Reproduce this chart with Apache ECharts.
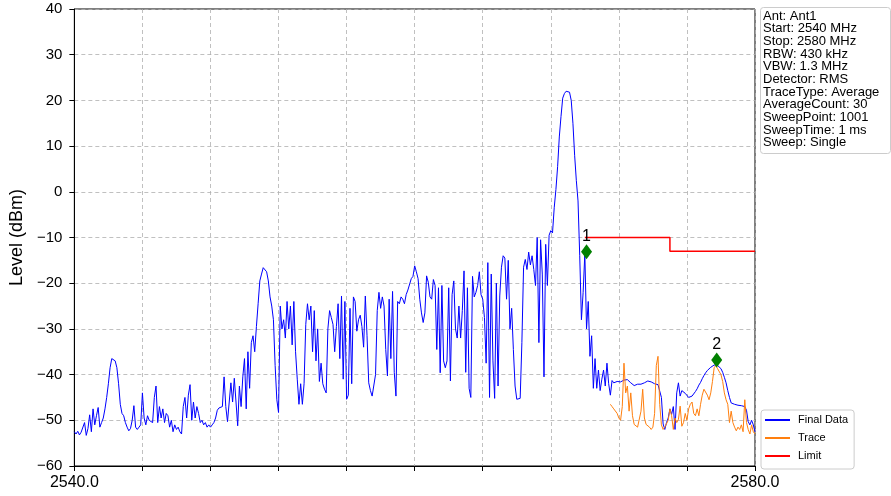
<!DOCTYPE html>
<html>
<head>
<meta charset="utf-8">
<script src="https://cdn.jsdelivr.net/npm/echarts@6/dist/echarts.min.js"></script>
<style>
html,body{margin:0;padding:0;background:#fff;}
#c{width:891px;height:496px;}
</style>
</head>
<body>
<div id="c"></div>
<script>
// ---- data ----
const freqStart = 2540.0;   // MHz
const freqStop = 2580.0;    // MHz
const freqStep = 0.1;       // MHz between read-off points
const xTickLabels = [2540, 2580];
const yTicks = [-60, -50, -40, -30, -20, -10, 0, 10, 20, 30, 40];

const finalData = [
-52.5,-53,-52.4,-53.2,-52.6,-52.9,-50.5,-53.3,-51.8,-48.8,
-52.5,-47.5,-51,-49,-47.2,-51.5,-50.5,-49.5,-47.5,-45,
-42,-38.5,-36.5,-36.6,-37,-38.5,-42,-46.5,-48.5,-49,
-50.5,-51.5,-52.3,-51.8,-50,-46.8,-51.5,-52,-51.5,-51,
-44,-49.5,-51,-49,-50,-50.3,-50.5,-45,-42.5,-50.5,
-47,-49.5,-47.5,-50.5,-48.5,-49,-51.5,-50,-52.5,-51,
-52,-51.5,-52.5,-53,-47,-45,-49.5,-44.5,-42.2,-50,
-46,-49.5,-47,-48.5,-50.5,-50,-51,-50.5,-51.5,-51,
-51.5,-51,-50.5,-49.5,-47.8,-47.3,-47.5,-47,-40.5,-47,
-50.3,-50.3,-41.8,-46,-40.8,-46,-51.2,-42.5,-47,-40.5,
-36.5,-47.5,-35,-43,-33,-31.5,-35,-29.5,-24.5,-19.5,
-18,-16.6,-16.8,-17.5,-19.5,-23,-25,-28,-38,-45.5,
-48.3,-25,-30,-28,-32,-24,-30,-25,-33.5,-24,
-35,-41,-46.5,-42,-46.5,-42,-29,-24.5,-28,-25,
-35,-26,-37,-30,-41.5,-37.5,-42,-43.2,-44,-30,
-26,-27.5,-29,-35,-29.5,-24.5,-36.5,-22.8,-41,-24,
-45.4,-44.5,-25.5,-42,-23,-24,-30.5,-28,-27,-29.5,
-34,-22.8,-31.5,-41.8,-43.5,-44.7,-44.5,-40,-26,-22,
-25.5,-23,-25,-34.5,-40.3,-23.5,-36.5,-21.8,-39.5,-44.7,
-24,-24.5,-23,-23.5,-24.5,-22.5,-21.5,-21.5,-19,-18.5,
-16.2,-17.5,-19,-23.5,-26.5,-28.6,-26.5,-18.4,-19.8,-23,
-23.5,-19.2,-20.5,-34.5,-21,-39.6,-20.5,-37,-38.5,-37,
-21,-41.4,-22.5,-19.5,-30,-32,-25,-32,-26,-17.3,
-39.5,-21,-43,-45,-18.5,-23,-22,-20.5,-17.5,-22.5,
-23.5,-27.5,-37.5,-15.5,-45,-18,-37,-45.2,-20,-42.5,
-22.8,-16.5,-14,-14.5,-23.5,-15,-30,-25.5,-34.5,-42.5,
-45.4,-45.8,-45.2,-33,-16.5,-14.8,-17,-13.2,-16,-14,
-17,-20.5,-10,-33,-10.5,-18,-40.5,-11.5,-20.5,-9.5,
-8.5,-9,-3.5,0.5,5.5,12,16.5,20.5,21.5,22,
22.3,21.8,20,15,8,2.5,-2,-14,-28,-22,
-13.5,-30,-24,-36,-31.5,-43,-36.5,-43,-39,-43.5,
-41,-39,-42.5,-37.5,-42,-44.5,-41.3,-41.8,-41.6,-41.5,
-41.7,-41.6,-41.3,-41.2,-41.1,-41.1,-41.3,-41.8,-42.2,-42.4,
-42.5,-42.1,-42.1,-42.1,-41.9,-41.8,-41.7,-41.4,-41.5,-41.6,
-41.8,-42,-42.1,-42.2,-42.3,-45,-50.8,-52,-50.5,-49.5,
-47.5,-48.7,-47,-52,-44,-41.8,-44.7,-43.5,-43.5,-44.1,
-44.4,-45,-45,-44.7,-44.3,-43.7,-43.1,-42.3,-41.7,-40.9,
-40.2,-39.6,-39.1,-38.7,-38.4,-38,-37.9,-37.9,-38,-38.2,
-38.7,-39.5,-40.6,-41.8,-43.5,-45,-46.2,-46.5,-46.5,-46.6,
-46.7,-46.8,-46.8,-46.9,-47,-47.8,-50.3,-51,-50,-51,
-52.5
];

const traceStart = 2571.5;  // MHz, first point of the Trace series
const traceData = [
-46.5,-47,-47.5,-47.7,-48.5,-49.5,-50,-47,-37.5,-44,
-42.5,-48,-44,-49,-50.9,-50.5,-51.5,-51.8,-48,-43.2,
-49.5,-50.9,-50.5,-51.5,-52,-51.5,-48.5,-38,-36,-46.5,
-51,-52,-51.5,-51.3,-50,-47.5,-49,-52,-49.5,-50.5,
-49.8,-46.9,-51.3,-50.5,-48.5,-50,-47.5,-46.5,-46,-48.5,
-49,-47.5,-49,-46.5,-44.5,-43.2,-43.5,-44.5,-45.5,-44,
-41.5,-38.5,-38,-38.7,-39,-40,-41.5,-44,-45.5,-46.5,
-50.5,-48,-50.5,-51.5,-52.3,-51.5,-52,-51,-52.5,-45.5,
-50.5,-52,-53,-51,-52.5,-53
];

const limitFreqs = [2570, 2575, 2575, 2580];
const limitLevels = [-10, -10, -13, -13];

const markerFreqs = [2570.1, 2577.75];
const markerLevels = [-13.1, -36.8];
const markerLabels = ['1', '2'];

const infoLines = [
  'Ant: Ant1', 'Start: 2540 MHz', 'Stop: 2580 MHz', 'RBW: 430 kHz', 'VBW: 1.3 MHz',
  'Detector: RMS', 'TraceType: Average', 'AverageCount: 30', 'SweepPoint: 1001',
  'SweepTime: 1 ms', 'Sweep: Single'
];

// ---- build ----
const FONT = '"Liberation Sans", Arial, Helvetica, sans-serif';
function toPairs(vals, start) {
  return vals.map((v, i) => [Math.round((start + i * freqStep) * 100) / 100, v]);
}
const minus = s => String(s).replace('-', '\u2212');

const chart = echarts.init(document.getElementById('c'), null, {renderer: 'canvas'});

const infoGraphics = [{
  type: 'rect', left: 760, top: 7,
  shape: {width: 130, height: 146, r: 3},
  style: {fill: '#fff', stroke: '#cccccc', lineWidth: 1}, z: 10
}];
infoLines.forEach((t, k) => {
  infoGraphics.push({
    type: 'text', x: 763, y: 16 + k * 12.67, z: 11,
    style: {text: t, font: '13px ' + FONT, fill: '#000', textVerticalAlign: 'middle', textAlign: 'left'}
  });
});

const option = {
  animation: false,
  backgroundColor: '#fff',
  grid: {left: 74, right: 136, top: 9, bottom: 30, show: true, borderColor: '#000', borderWidth: 1},
  xAxis: {
    type: 'value', min: freqStart, max: freqStop, interval: 4,
    axisLine: {show: true, onZero: false, lineStyle: {color: '#000', width: 1}},
    axisTick: {show: true, length: 5, lineStyle: {color: '#000'}},
    axisLabel: {
      color: '#000', fontSize: 16, fontFamily: FONT, margin: 9,
      showMinLabel: true, showMaxLabel: true,
      formatter: v => xTickLabels.indexOf(Math.round(v)) >= 0 ? v.toFixed(1) : ''
    },
    splitLine: {show: true, lineStyle: {color: '#b0b0b0', type: [4, 3], width: 0.8}}
  },
  yAxis: {
    type: 'value', min: yTicks[0], max: yTicks[yTicks.length - 1], interval: 10,
    name: 'Level (dBm)', nameLocation: 'middle', nameGap: 46,
    nameTextStyle: {color: '#000', fontSize: 18, fontFamily: FONT},
    axisLine: {show: true, onZero: false, lineStyle: {color: '#000', width: 1}},
    axisTick: {show: true, length: 5, lineStyle: {color: '#000'}},
    axisLabel: {color: '#000', fontSize: 15, fontFamily: FONT, margin: 12, formatter: v => minus(v)},
    splitLine: {show: true, lineStyle: {color: '#b0b0b0', type: [4, 3], width: 0.8}}
  },
  legend: {
    orient: 'vertical', left: 761, top: 410,
    data: ['Final Data', 'Trace', 'Limit'],
    icon: 'rect', itemWidth: 25, itemHeight: 2, itemGap: 4,
    padding: [3, 6, 6, 4],
    borderColor: '#cccccc', borderWidth: 1, borderRadius: 3, backgroundColor: '#fff',
    textStyle: {color: '#000', fontSize: 11, fontFamily: FONT, lineHeight: 14, padding: [0, 0, 0, 3]}
  },
  graphic: infoGraphics,
  series: [
    {
      name: 'Final Data', type: 'line', data: toPairs(finalData, freqStart),
      symbol: 'none', showSymbol: false, color: '#0000ff',
      lineStyle: {color: '#0000ff', width: 1}, z: 2
    },
    {
      name: 'Trace', type: 'line', data: toPairs(traceData, traceStart),
      symbol: 'none', showSymbol: false, color: '#ff7f0e',
      lineStyle: {color: '#ff7f0e', width: 1}, z: 3
    },
    {
      name: 'Limit', type: 'line', data: limitFreqs.map((f, i) => [f, limitLevels[i]]),
      symbol: 'none', showSymbol: false, color: '#ff0000',
      lineStyle: {color: '#ff0000', width: 1.5}, z: 4
    },
    {
      name: 'Markers', type: 'scatter',
      data: markerFreqs.map((f, i) => ({value: [f, markerLevels[i]], label: {formatter: markerLabels[i]}})),
      symbol: 'diamond', symbolSize: [11, 15],
      itemStyle: {color: '#008000', opacity: 1}, z: 6,
      label: {show: true, position: 'top', distance: 0, color: '#000', fontSize: 16, fontFamily: FONT}
    }
  ]
};
chart.setOption(option);
</script>
</body>
</html>
